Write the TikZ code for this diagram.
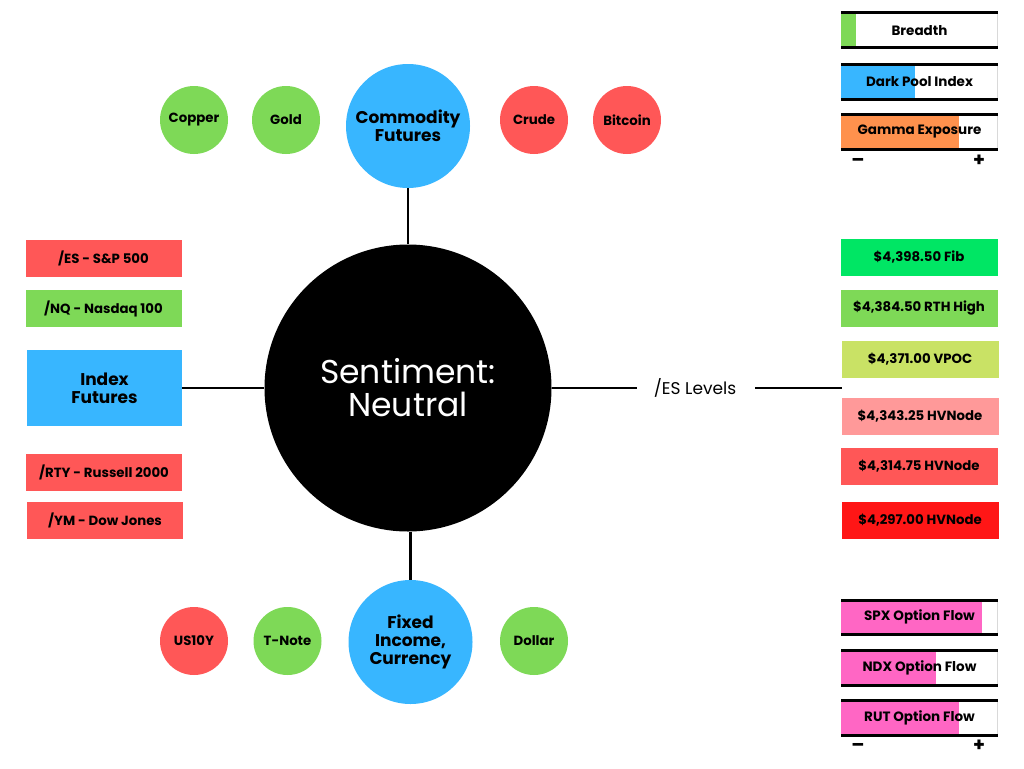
\documentclass[tikz,border=0pt]{standalone}
\usepackage{fontspec}
\setmainfont{Poppins}
\definecolor{cgreen}{HTML}{7ED957}
\definecolor{cred}{HTML}{FF5757}
\definecolor{cblue}{HTML}{38B6FF}
\definecolor{corange}{HTML}{FF914D}
\definecolor{cpink}{HTML}{FF66C4}
\definecolor{cfib}{HTML}{00E664}
\definecolor{cvpoc}{HTML}{C9E265}
\definecolor{clightred}{HTML}{FF9999}
\definecolor{cdeepred}{HTML}{FF1616}
\newcommand{\gaugebar}[6]{%
  \fill[white] (841,#2) rectangle (998,#3);
  \fill[#5] (841,#2) rectangle (#4,#3);
  \draw[black!15, line width=1pt] (997.5,#2) -- (997.5,#3);
  \draw[line width=3pt] (841,#2) -- (998,#2);
  \draw[line width=3pt] (841,#3) -- (998,#3);
  \node[bartext] (#1) at (919.5,{(#2+#3)/2}) {#6};
}
\begin{document}
\begin{tikzpicture}[x=1pt,y=-1pt,
  smallc/.style={circle, minimum size=68pt, inner sep=0pt, font=\fontsize{13.3}{15}\selectfont\bfseries},
  bigc/.style={circle, fill=cblue, minimum size=124pt, inner sep=0pt, align=center, font=\fontsize{17}{18}\selectfont\bfseries},
  lbox/.style={rectangle, minimum width=156pt, minimum height=37pt, inner sep=0pt, font=\fontsize{13.3}{15}\selectfont\bfseries},
  rbox/.style={rectangle, minimum width=157pt, minimum height=37pt, inner sep=0pt, font=\fontsize{13.3}{15}\selectfont\bfseries},
  bartext/.style={font=\fontsize{13.5}{15}\selectfont\bfseries, inner sep=0pt},
  pm/.style={font=\fontsize{19}{20}\selectfont\bfseries, inner sep=0pt},
  conn/.style={line width=2.7pt}]
\useasboundingbox (0,0) rectangle (1024,768);
\fill[white] (0,0) rectangle (1024,768);

% center
\node[circle, fill=black, minimum size=287pt, inner sep=0pt, text=white, align=center,
  font=\fontsize{33}{33}\selectfont] (center) at (408,388) {Sentiment:\\Neutral};

% commodity
\node[bigc] (comm) at (408,126) {Commodity\\Futures};
\node[smallc, fill=cgreen] (copper) at (194,120) {Copper};
\node[smallc, fill=cgreen] (gold) at (286,120) {Gold};
\node[smallc, fill=cred] (crude) at (534,120) {Crude};
\node[smallc, fill=cred] (bitcoin) at (627,120) {Bitcoin};
\draw[conn] (comm.south) -- (center.north);

% fixed income
\node[bigc] (fixed) at (410.5,642) {Fixed\\Income,\\Currency};
\node[smallc, fill=cred] (us10y) at (194,641) {US10Y};
\node[smallc, fill=cgreen] (tnote) at (287.5,641) {T-Note};
\node[smallc, fill=cgreen] (dollar) at (534,641) {Dollar};
\draw[conn] (fixed.north |- center.south) -- (fixed.north);

% index futures
\node[lbox, fill=cred] (es) at (103.5,258.5) {/ES - S\&P 500};
\node[lbox, fill=cgreen] (nq) at (103.5,308.5) {/NQ - Nasdaq 100};
\node[rectangle, fill=cblue, minimum width=155pt, minimum height=76pt, inner sep=0pt, align=center,
  font=\fontsize{17}{18}\selectfont\bfseries] (index) at (104.5,388) {Index\\Futures};
\node[lbox, fill=cred] (rty) at (104,472.5) {/RTY - Russell 2000};
\node[lbox, fill=cred] (ym) at (105,520.5) {/YM - Dow Jones};
\draw[conn] (index.east) -- (center.west);

% ES levels
\node[inner sep=0pt, font=\fontsize{17}{18}\selectfont] (eslev) at (695,388) {/ES Levels};
\coordinate (levend) at (842,388);
\draw[conn] (center.east) -- ([xshift=-17pt]eslev.west);
\draw[conn] ([xshift=19pt]eslev.east) -- (levend);
\node[rbox, fill=cfib] (fib) at (919,257.5) {\$4,398.50 Fib};
\node[rbox, fill=cgreen] (rth) at (919,308) {\$4,384.50 RTH High};
\node[rbox, fill=cvpoc] (vpoc) at (920,359.5) {\$4,371.00 VPOC};
\node[rbox, fill=clightred] (hv1) at (920,416.5) {\$4,343.25 HVNode};
\node[rbox, fill=cred] (hv2) at (919,466.5) {\$4,314.75 HVNode};
\node[rbox, fill=cdeepred] (hv3) at (920,520) {\$4,297.00 HVNode};

% gauges top
\gaugebar{breadth}{13}{48}{856}{cgreen}{Breadth}
\gaugebar{darkpool}{64}{99}{915}{cblue}{Dark Pool Index}
\gaugebar{gamma}{114}{149}{959}{corange}{Gamma Exposure}
\node[pm] (minusA) at (858,162) {--};
\node[pm] (plusA) at (979,161) {+};

% gauges bottom
\gaugebar{spx}{600}{634}{982}{cpink}{SPX Option Flow}
\gaugebar{ndx}{650}{685}{936}{cpink}{NDX Option Flow}
\gaugebar{rut}{700}{735}{959}{cpink}{RUT Option Flow}
\node[pm] (minusB) at (858,747) {--};
\node[pm] (plusB) at (979,746) {+};
\end{tikzpicture}
\end{document}
